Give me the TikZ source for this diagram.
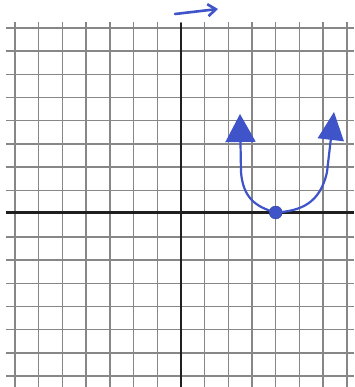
\documentclass[tikz,border=0pt]{standalone}
\usetikzlibrary{arrows.meta}
\definecolor{penblue}{RGB}{62,84,200}
\definecolor{gridgray}{RGB}{135,135,135}
\begin{document}
\begin{tikzpicture}[x=1pt,y=-1pt,
  gridline/.style={draw=gridgray, line width=1.4pt},
  axisline/.style={draw=black!88, line width=2.8pt},
  pen/.style={draw=penblue, line width=2.2pt, line cap=round},
  dotnode/.style={circle, fill=penblue, draw=penblue!80!black, inner sep=0pt, minimum size=13pt}]
\useasboundingbox (0,0) rectangle (354,387);
\fill[white] (0,0) rectangle (354,387);
% grid
\foreach \k in {0,...,15} \draw[gridline] (6,28+23.2*\k) -- (354,28+23.2*\k);
\foreach \k in {0,...,14} \draw[gridline] (15+23.7*\k,22) -- (15+23.7*\k,387);
% axes
\draw[axisline] (6,212.5) -- (354,212.5);
\draw[axisline] (180.9,23) -- (180.9,387);
% curve
\node[dotnode] (v) at (275.7,212.5) {};
\coordinate (lt) at (240,114);
\coordinate (rt) at (334,112);
\draw[pen, -{Triangle[length=28pt,width=30pt]}] (v.center) .. controls (256,207) and (243,198) .. (241,172) -- (lt);
\draw[pen, -{Triangle[length=28pt,width=26pt]}] (v.center) .. controls (300,211) and (320,204) .. (327,172) -- (rt);
% top arrow
\coordinate (a1) at (175,14);
\coordinate (a2) at (218,9);
\draw[pen, line width=2.6pt, -{Straight Barb[length=8pt,width=12pt]}] (a1) -- (a2);
\end{tikzpicture}
\end{document}
